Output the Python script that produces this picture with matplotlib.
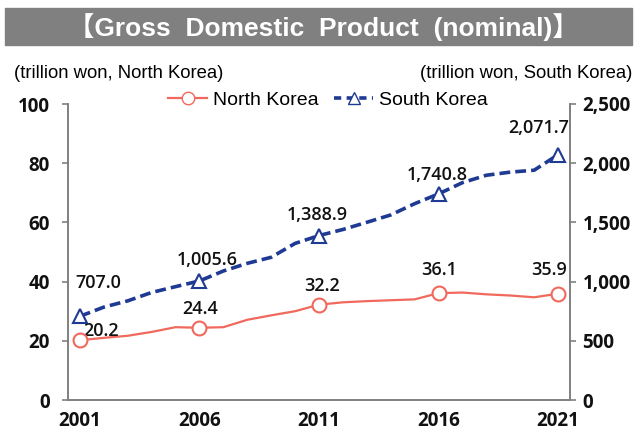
import matplotlib
matplotlib.use("Agg")
import matplotlib.pyplot as plt
from matplotlib.patches import Rectangle
from matplotlib.lines import Line2D

# Yearly nominal GDP, trillion won
years = list(range(2001, 2022))
north_korea = [20.2, 21.0, 21.7, 23.0, 24.6, 24.4, 24.6, 27.1, 28.6, 30.0, 32.2,
               33.0, 33.4, 33.7, 34.0, 36.1, 36.3, 35.7, 35.3, 34.7, 35.9]
south_korea = [707.0, 784.7, 837.4, 908.4, 957.4, 1005.6, 1089.7, 1154.2, 1205.3,
               1322.6, 1388.9, 1440.1, 1500.8, 1562.9, 1658.0, 1740.8, 1835.7,
               1898.2, 1924.5, 1940.7, 2071.7]
label_years = [2001, 2006, 2011, 2016, 2021]

W, H = 637, 440
fig = plt.figure(figsize=(W / 100, H / 100), dpi=100)

def px(x0, y0, x1, y1):
    # pixel box (top-left origin) -> figure fraction
    return [x0 / W, 1 - y1 / H, (x1 - x0) / W, (y1 - y0) / H]

nk_color = "#F0695C"
sk_color = "#1F3A93"
spine_color = "#808080"
num_font = "Open Sans"

# title banner
fig.patches.append(Rectangle((5 / W, 1 - 45 / H), 627 / W, 37 / H,
                             transform=fig.transFigure, color="#808080", zorder=0))
fig.text(323 / W, 1 - 27 / H, "【Gross  Domestic  Product  (nominal)】",
         ha="center", va="center", color="white", fontsize=19, fontweight="bold",
         family=["Liberation Sans", "Noto Sans CJK KR"])

hdr_font = ["Liberation Sans Narrow", "Liberation Sans"]
fig.text(14 / W, 1 - 73 / H, "(trillion won, North Korea)", ha="left", va="center",
         fontsize=13.3, family=hdr_font)
fig.text(632 / W, 1 - 73 / H, "(trillion won, South Korea)", ha="right", va="center",
         fontsize=13.3, family=hdr_font)

ax = fig.add_axes(px(68, 104, 570, 400))
ax2 = ax.twinx()

ax.plot(years, north_korea, color=nk_color, lw=1.6, zorder=3)
ax.plot(label_years, [north_korea[years.index(y)] for y in label_years], "o",
        ms=10, mfc="white", mec=nk_color, mew=1.5, zorder=4)
ax2.plot(years, south_korea, color=sk_color, lw=2.6, ls=(0, (3, 1.4)), zorder=3)
ax2.plot(label_years, [south_korea[years.index(y)] for y in label_years], "^",
         ms=10, mfc="white", mec=sk_color, mew=1.5, zorder=4)

ax.set_xlim(2000.5, 2021.5)
ax.set_ylim(0, 100)
ax2.set_ylim(0, 2500)
ax.set_xticks(label_years)
ax.set_yticks(range(0, 101, 20))
ax2.set_yticks(range(0, 2501, 500))
ax2.set_yticklabels([f"{v:,}" for v in range(0, 2501, 500)])

for a in (ax, ax2):
    for s in a.spines.values():
        s.set_color(spine_color)
        s.set_linewidth(1.4)
    a.spines["top"].set_visible(False)
ax2.spines["left"].set_visible(False)
ax2.spines["bottom"].set_visible(False)
ax.spines["right"].set_visible(False)

tick_kw = dict(labelsize=13.5, colors=spine_color, labelcolor="#111111", length=4, width=1.2)
ax.tick_params(axis="y", pad=9, **tick_kw)
ax2.tick_params(axis="y", pad=5, **tick_kw)
ax.tick_params(axis="x", length=0, pad=8, labelsize=13.5, labelcolor="#111111")
for lbl in ax.get_xticklabels() + ax.get_yticklabels() + ax2.get_yticklabels():
    lbl.set_fontweight("bold")
    lbl.set_family(num_font)

# value labels, offsets from each marker to the label centre
nk_offsets = {2001: (21, 9), 2006: (1, 19), 2011: (3, 19), 2016: (1, 23), 2021: (-9, 24)}
sk_offsets = {2001: (18, 33), 2006: (8, 21), 2011: (-2, 21), 2016: (-1, 19), 2021: (-19, 27)}
for y in label_years:
    v = north_korea[years.index(y)]
    ax.annotate(f"{v:.1f}", (y, v), xytext=nk_offsets[y], textcoords="offset pixels",
                ha="center", va="center", fontsize=13, fontweight="semibold",
                family=num_font, color="#111111")
    v = south_korea[years.index(y)]
    ax2.annotate(f"{v:,.1f}", (y, v), xytext=sk_offsets[y], textcoords="offset pixels",
                 ha="center", va="center", fontsize=13, fontweight="semibold",
                 family=num_font, color="#111111")

# legend handles show line + marker
h1 = Line2D([], [], color=nk_color, lw=1.6, marker="o", ms=9, mfc="white", mec=nk_color)
h2 = Line2D([], [], color=sk_color, lw=2.6, ls=(0, (2, 1.5)), marker="^", ms=8,
            mfc="white", mec=sk_color)
fig.legend([h1, h2], ["North Korea", "South Korea"], loc="center",
           bbox_to_anchor=(328 / W, 1 - 100 / H), ncol=2, frameon=False,
           handlelength=2.0, handletextpad=0.3, columnspacing=0.8,
           prop={"family": "Liberation Sans", "size": 14})

fig.savefig("out.png", dpi=100)
